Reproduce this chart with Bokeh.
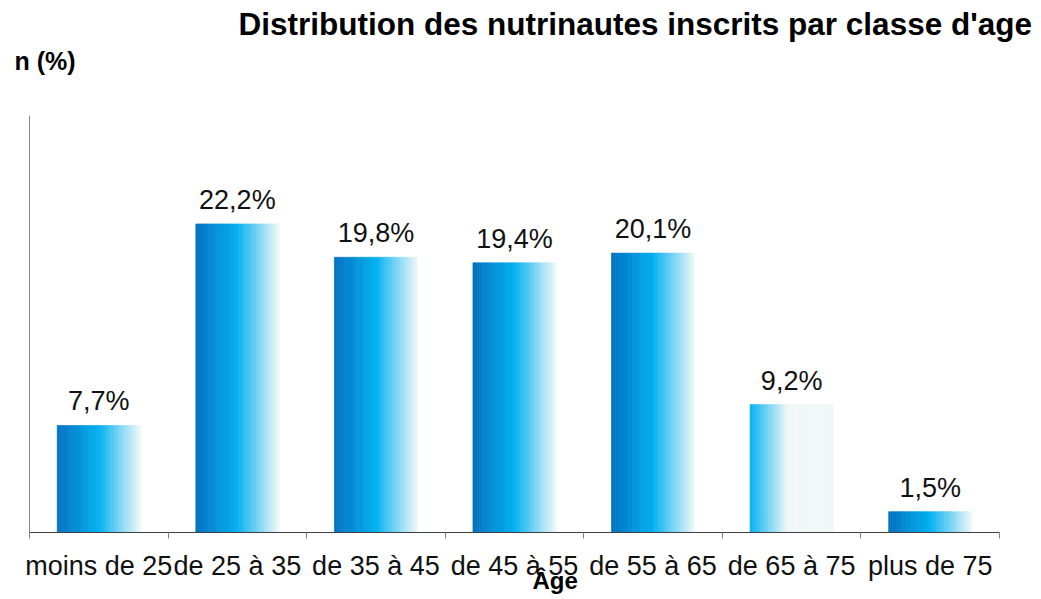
from bokeh.plotting import figure
from bokeh.models import Range1d, FixedTicker, Title, ColumnDataSource
from bokeh.core.properties import value
from bokeh.embed import file_html
from bokeh.resources import INLINE

# ---- data ----
categories = ["moins de 25", "de 25 à 35", "de 35 à 45", "de 45 à 55",
              "de 55 à 65", "de 65 à 75", "plus de 75"]
percents = [7.7, 22.2, 19.8, 19.4, 20.1, 9.2, 1.5]
title_text = "Distribution des nutrinautes inscrits par classe d'age"
y_title = "n (%)"
x_title = "Âge"

# ---- style ----
FONT = "Liberation Sans"
BAR_WIDTH = 0.6
N_STRIPES = 40
stops = [(0.0, (0x00, 0x70, 0xC0)), (0.5, (0x00, 0xB0, 0xF0)), (1.0, (0xF0, 0xF8, 0xF8))]
# the 65-75 bar gradient is shifted (starts mid-gradient, then flat pale)
gradient_shift = {5: (0.5, 1.0 / 0.45)}


def grad_color(t):
    t = max(0.0, min(1.0, t))
    for (t0, c0), (t1, c1) in zip(stops[:-1], stops[1:]):
        if t <= t1:
            f = (t - t0) / (t1 - t0) if t1 > t0 else 0
            c = [round(a + (b - a) * f) for a, b in zip(c0, c1)]
            return "#%02x%02x%02x" % tuple(c)
    return "#%02x%02x%02x" % stops[-1][1]


left, right, top, bottom, colors = [], [], [], [], []
for i, v in enumerate(percents):
    x0 = i + 0.5 - BAR_WIDTH / 2
    sw = BAR_WIDTH / N_STRIPES
    for k in range(N_STRIPES):
        t = (k + 0.5) / N_STRIPES
        if i in gradient_shift:
            s0, sc = gradient_shift[i]
            t = s0 + t * sc * (1 - s0)
        left.append(x0 + k * sw)
        right.append(x0 + (k + 1) * sw)
        top.append(v)
        bottom.append(0)
        colors.append(grad_color(t))

stripes = ColumnDataSource(dict(left=left, right=right, top=top, bottom=bottom, color=colors))

p = figure(width=1041, height=599, output_backend="svg", toolbar_location=None,
           x_range=Range1d(0, len(categories)), y_range=Range1d(0, 30),
           min_border_left=29, min_border_right=42, min_border_top=115, min_border_bottom=67)
p.outline_line_color = None
p.xgrid.grid_line_color = None
p.ygrid.grid_line_color = None

p.quad(left="left", right="right", top="top", bottom="bottom", source=stripes,
       fill_color="color", line_color="color", line_width=0.6)

labels_src = ColumnDataSource(dict(
    x=[i + 0.5 for i in range(len(categories))],
    y=percents,
    t=[("%.1f" % v).replace(".", ",") + "%" for v in percents]))
p.text(x="x", y="y", text="t", source=labels_src, text_align="center",
       text_baseline="alphabetic", y_offset=-24, text_font=value(FONT),
       text_font_size="27px", text_color="#111111")

# x axis
xa = p.xaxis[0]
xa.ticker = FixedTicker(ticks=[i + 0.5 for i in range(len(categories))],
                        minor_ticks=list(range(len(categories) + 1)))
xa.major_label_overrides = {i + 0.5: c for i, c in enumerate(categories)}
xa.major_tick_line_color = None
xa.major_tick_out = 0
xa.major_tick_in = 0
xa.minor_tick_out = 6
xa.minor_tick_in = 0
xa.minor_tick_line_color = "#808080"
xa.axis_line_color = "#404040"
xa.major_label_text_font = FONT
xa.major_label_text_font_size = "27px"
xa.major_label_text_color = "#111111"
xa.major_label_standoff = 12

# y axis
ya = p.yaxis[0]
ya.ticker = FixedTicker(ticks=[])
ya.major_tick_line_color = None
ya.minor_tick_line_color = None
ya.major_label_text_font_size = "0px"
ya.axis_line_color = "#888888"

# titles (first added is nearest to the frame)
p.add_layout(Title(text=y_title, align="left", offset=-15, standoff=82,
                   vertical_align="bottom",
                   text_font=FONT, text_font_size="25px", text_font_style="bold",
                   text_color="#000000"), "above")
p.add_layout(Title(text=title_text, align="left", offset=209, standoff=-76,
                   vertical_align="bottom",
                   text_font=FONT, text_font_size="31.5px", text_font_style="bold",
                   text_color="#000000"), "above")
p.add_layout(Title(text=x_title, align="left", offset=503, standoff=-34,
                   vertical_align="top",
                   text_font=FONT, text_font_size="24px", text_font_style="bold",
                   text_color="#000000"), "below")

open("out.html", "w").write(file_html(p, INLINE))
